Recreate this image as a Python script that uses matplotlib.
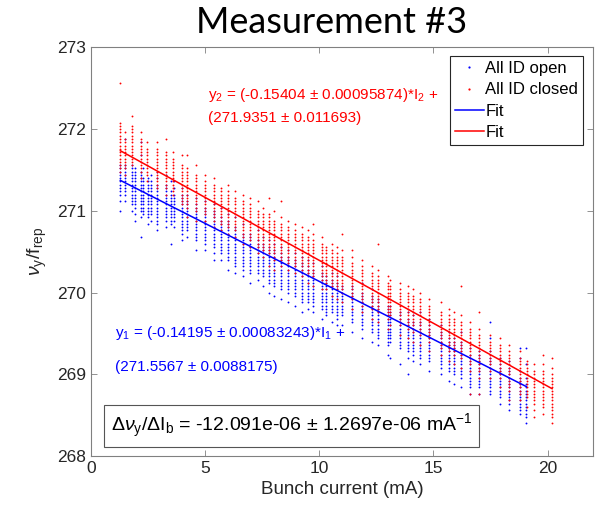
import numpy as np
import matplotlib
matplotlib.use('Agg')
import matplotlib.pyplot as plt
from matplotlib.lines import Line2D

plt.rcParams['font.family'] = ['Liberation Sans', 'DejaVu Sans']
plt.rcParams['mathtext.fontset'] = 'custom'
plt.rcParams['mathtext.rm'] = 'Liberation Sans'
plt.rcParams['mathtext.it'] = 'Liberation Sans:italic'
plt.rcParams['mathtext.bf'] = 'Liberation Sans:bold'

# tune values are stored as bin index k:  nu = tune_base + tune_step * k
tune_base = 268.0
tune_step = 0.04

# All ID open (blue): bunch current (mA) of each column and the bins seen there
open_I = [1.29, 1.50, 1.80, 1.95, 2.18, 2.30, 2.48, 2.65, 2.90, 3.30, 3.50, 3.65, 4.00, 4.20, 4.60,
          5.00, 5.40, 5.70, 6.00, 6.30, 6.65, 6.95, 7.30, 7.55, 7.80, 8.03, 8.32, 8.65, 8.94, 9.23,
          9.52, 9.74, 10.10, 10.30, 10.54, 10.76, 11.00, 11.42, 11.88, 12.29, 12.58, 13.02, 13.12,
          13.53, 13.90, 14.10, 14.40, 14.80, 15.35, 15.70, 15.90, 16.20, 16.60, 17.00, 17.50,
          17.90, 18.30, 18.80, 19.07]
open_k = [
    [75, 78, 80, 81, 82, 83, 84, 85, 86, 87, 88, 89],
    [78, 80, 81, 82, 83, 84, 85, 86, 87, 88, 89, 97],
    [75, 77, 78, 79, 80, 81, 82, 83, 84, 85, 86, 87, 88, 89],
    [72, 74, 76, 77, 78, 79, 80, 81, 82, 83, 84, 85, 86, 87, 88],
    [67, 73, 75, 76, 77, 78, 79, 80, 81, 82, 83, 84, 85, 86, 87, 92, 96],
    [74, 75, 76, 77, 78, 79, 80, 81, 82, 83, 84, 85, 88],
    [71, 73, 74, 75, 76, 77, 78, 79, 80, 81, 82, 83, 84, 85],
    [72, 74, 75, 76, 77, 78, 79, 80, 81, 82, 83, 84, 86],
    [69, 71, 72, 73, 74, 75, 76, 77, 78, 79, 80, 81, 82, 83, 85, 87],
    [70, 72, 73, 74, 75, 76, 77, 78, 79, 80, 81, 82, 83, 86],
    [65, 71, 72, 73, 74, 75, 76, 77, 78, 79, 80, 81, 84],
    [70, 72, 73, 74, 75, 76, 77, 78, 79, 80, 82, 84],
    [66, 68, 69, 70, 71, 72, 73, 74, 75, 76, 77, 78, 79, 80, 82],
    [67, 69, 70, 71, 72, 73, 74, 75, 76, 77, 78, 80],
    [63, 66, 67, 68, 69, 70, 71, 72, 73, 74, 75, 76, 77, 79],
    [63, 65, 66, 67, 68, 69, 70, 71, 72, 73, 74, 75, 76, 78],
    [60, 62, 64, 65, 66, 67, 68, 69, 70, 71, 72, 73, 74, 75, 77],
    [60, 62, 63, 64, 65, 66, 67, 68, 69, 70, 71, 72, 73, 76],
    [57, 60, 61, 62, 63, 64, 65, 66, 67, 68, 69, 70, 71, 72, 74],
    [56, 58, 59, 60, 61, 62, 63, 64, 65, 66, 67, 68, 69, 70, 73],
    [55, 57, 58, 59, 60, 61, 62, 63, 64, 65, 66, 67, 68, 71],
    [53, 56, 57, 58, 59, 60, 61, 62, 63, 64, 65, 66, 67, 68],
    [54, 56, 57, 58, 59, 60, 61, 62, 63, 64, 65, 66, 69],
    [52, 55, 56, 57, 58, 59, 60, 61, 62, 63, 64, 65, 67],
    [50, 53, 54, 55, 56, 57, 58, 59, 60, 61, 62, 63, 64, 66],
    [49, 52, 53, 54, 55, 56, 57, 58, 59, 60, 61, 62, 63, 65],
    [48, 51, 52, 53, 54, 55, 56, 57, 58, 59, 60, 61, 62, 64],
    [47, 50, 51, 52, 53, 54, 55, 56, 57, 58, 59, 60, 61, 63],
    [46, 49, 50, 51, 52, 53, 54, 55, 56, 57, 58, 59, 60, 62],
    [44, 47, 48, 49, 50, 51, 52, 53, 54, 55, 56, 57, 58, 59, 61],
    [45, 47, 48, 49, 50, 51, 52, 53, 54, 55, 56, 57, 58, 60],
    [44, 46, 47, 48, 49, 50, 51, 52, 53, 54, 55, 56, 57, 59],
    [42, 45, 46, 47, 48, 49, 50, 51, 52, 53, 54, 55, 56, 58],
    [43, 44, 45, 46, 47, 48, 49, 50, 51, 52, 53, 54, 55],
    [41, 44, 45, 46, 47, 48, 49, 50, 51, 52, 53, 54, 56],
    [40, 42, 43, 44, 45, 46, 47, 48, 49, 50, 51, 52, 53, 55],
    [40, 43, 44, 45, 46, 47, 48, 49, 50, 51, 52],
    [38, 41, 42, 43, 44, 45, 46, 47, 48, 49, 50, 51, 52],
    [36, 39, 40, 41, 42, 43, 44, 45, 46, 47, 48, 49, 50, 53],
    [35, 38, 39, 40, 41, 42, 43, 44, 45, 46, 47, 48, 49, 51],
    [34, 36, 37, 38, 39, 40, 41, 42, 43, 44, 45, 46, 47, 48],
    [31, 34, 35, 36, 37, 38, 39, 40, 41, 42, 43, 44, 45, 46],
    [30, 35, 36, 37, 38, 39, 40, 41, 42, 43, 44, 46],
    [28, 33, 34, 35, 36, 37, 38, 39, 40, 41, 42, 43, 44],
    [25, 30, 32, 33, 34, 35, 36, 37, 38, 39, 40, 41, 42, 44],
    [29, 31, 32, 33, 34, 35, 36, 37, 38, 39, 40, 41, 43],
    [28, 30, 31, 32, 33, 34, 35, 36, 37, 38, 39, 40, 41, 44],
    [26, 29, 30, 31, 32, 33, 34, 35, 36, 37, 38, 39, 40, 42],
    [25, 27, 28, 29, 30, 31, 32, 33, 34, 35, 36, 37, 38, 40],
    [23, 26, 27, 28, 29, 30, 31, 32, 33, 34, 35, 36, 38],
    [22, 25, 26, 27, 28, 29, 30, 31, 32, 33, 34, 35, 36],
    [21, 24, 25, 26, 27, 28, 29, 30, 31, 32, 33, 34, 35, 38],
    [19, 21, 22, 23, 24, 25, 26, 27, 28, 29, 30, 31, 33],
    [19, 21, 22, 23, 24, 25, 26, 27, 28, 29, 30, 31, 32],
    [19, 20, 21, 22, 23, 24, 25, 26, 27, 28, 29, 30, 32, 36, 41],
    [16, 18, 19, 20, 21, 22, 23, 24, 25, 26, 27, 28, 30],
    [14, 16, 17, 18, 19, 20, 21, 22, 23, 24, 25, 26, 27, 29],
    [13, 14, 15, 16, 17, 18, 19, 20, 21, 22, 23, 24, 26, 30, 33],
    [10, 12, 13, 14, 15, 16, 17, 18, 19, 20, 21, 22, 24, 28, 33],
]

# All ID closed (red)
closed_I = [1.29, 1.50, 1.80, 2.18, 2.45, 2.90, 3.30, 3.60, 4.00, 4.20, 4.60, 5.00, 5.40, 5.70,
            6.00, 6.30, 6.65, 6.95, 7.30, 7.55, 7.80, 8.03, 8.32, 8.65, 8.94, 9.23, 9.52, 9.74,
            10.10, 10.30, 10.54, 10.76, 10.98, 11.42, 11.88, 12.29, 12.58, 13.02, 13.12, 13.53,
            13.90, 14.10, 14.40, 14.80, 15.35, 15.70, 15.90, 16.20, 16.60, 17.00, 17.50, 17.90,
            18.30, 18.80, 19.10, 19.40, 19.80, 20.20]
closed_k = [
    [87, 88, 89, 90, 91, 92, 93, 94, 95, 96, 97, 98, 99, 100, 101, 102, 114],
    [86, 88, 89, 90, 91, 92, 93, 94, 95, 96, 97, 99],
    [89, 90, 91, 92, 93, 94, 95, 96, 97, 98, 99, 100, 101, 104],
    [85, 87, 88, 89, 90, 91, 92, 93, 94, 95, 96, 97, 99],
    [84, 86, 87, 88, 89, 90, 91, 92, 93, 94, 96],
    [82, 83, 84, 85, 86, 87, 88, 89, 90, 91, 92, 93, 94, 96],
    [80, 82, 83, 84, 85, 86, 87, 88, 89, 90, 91, 92, 93, 97],
    [80, 81, 82, 83, 84, 85, 86, 87, 88, 89, 90, 91, 93],
    [77, 78, 79, 80, 81, 82, 83, 84, 85, 86, 87, 88, 89, 92],
    [73, 76, 77, 78, 79, 80, 81, 82, 83, 84, 85, 86, 87, 88, 92],
    [72, 75, 76, 77, 78, 79, 80, 81, 82, 83, 84, 85, 86, 89],
    [72, 74, 75, 76, 77, 78, 79, 80, 81, 82, 83, 84, 86],
    [70, 72, 73, 74, 75, 76, 77, 78, 79, 80, 81, 82, 83, 85],
    [69, 71, 72, 73, 74, 75, 76, 77, 78, 79, 80, 81, 82],
    [68, 70, 71, 72, 73, 74, 75, 76, 77, 78, 79, 80, 81, 83],
    [67, 69, 70, 71, 72, 73, 74, 75, 76, 77, 78, 79, 81],
    [65, 67, 68, 69, 70, 71, 72, 73, 74, 75, 76, 77, 78, 80],
    [64, 66, 67, 68, 69, 70, 71, 72, 73, 74, 75, 76, 77, 79],
    [62, 64, 65, 66, 67, 68, 69, 70, 71, 72, 73, 74, 75, 78],
    [61, 63, 64, 65, 66, 67, 68, 69, 70, 71, 72, 73, 74, 76],
    [58, 62, 63, 64, 65, 66, 67, 68, 69, 70, 71, 72, 73, 74, 79],
    [57, 60, 61, 62, 63, 64, 65, 66, 67, 68, 69, 70, 71, 72, 75],
    [58, 60, 61, 62, 63, 64, 65, 66, 67, 68, 69, 70, 71, 73, 78],
    [57, 59, 60, 61, 62, 63, 64, 65, 66, 67, 68, 69, 70, 72],
    [56, 58, 59, 60, 61, 62, 63, 64, 65, 66, 67, 68, 69, 71],
    [55, 57, 58, 59, 60, 61, 62, 63, 64, 65, 66, 67, 68, 70],
    [53, 56, 57, 58, 59, 60, 61, 62, 63, 64, 65, 66, 67, 69],
    [52, 55, 56, 57, 58, 59, 60, 61, 62, 63, 64, 65, 66, 68, 71],
    [51, 54, 55, 56, 57, 58, 59, 60, 61, 62, 63, 64, 65, 67],
    [51, 53, 54, 55, 56, 57, 58, 59, 60, 61, 62, 63, 64],
    [49, 52, 53, 54, 55, 56, 57, 58, 59, 60, 61, 62, 63, 65],
    [48, 51, 52, 53, 54, 55, 56, 57, 58, 59, 60, 61, 62, 64],
    [47, 50, 51, 52, 53, 54, 55, 56, 57, 58, 59, 60, 61, 63, 68],
    [45, 48, 49, 50, 51, 52, 53, 54, 55, 56, 57, 58, 59, 61, 63],
    [44, 46, 47, 48, 49, 50, 51, 52, 53, 54, 55, 56, 57, 58, 60],
    [42, 45, 46, 47, 48, 49, 50, 51, 52, 53, 54, 55, 56, 58],
    [41, 44, 45, 46, 47, 48, 49, 50, 51, 52, 53, 54, 55, 57, 65],
    [39, 42, 43, 44, 45, 46, 47, 48, 49, 50, 51, 52, 53, 55],
    [40, 43, 44, 45, 46, 47, 48, 49, 50, 51, 52, 54],
    [37, 40, 41, 42, 43, 44, 45, 46, 47, 48, 49, 50, 51, 53],
    [36, 39, 40, 41, 42, 43, 44, 45, 46, 47, 48, 49, 50, 52],
    [35, 38, 39, 40, 41, 42, 43, 44, 45, 46, 47, 48, 49, 51],
    [34, 37, 38, 39, 40, 41, 42, 43, 44, 45, 46, 47, 48, 50],
    [32, 35, 36, 37, 38, 39, 40, 41, 42, 43, 44, 45, 46, 48],
    [31, 33, 34, 35, 36, 37, 38, 39, 40, 41, 42, 43, 44, 47],
    [29, 32, 33, 34, 35, 36, 37, 38, 39, 40, 41, 42, 43, 45],
    [28, 31, 32, 33, 34, 35, 36, 37, 38, 39, 40, 41, 42, 44],
    [27, 30, 31, 32, 33, 34, 35, 36, 37, 38, 39, 40, 41, 43, 52],
    [19, 26, 28, 29, 30, 31, 32, 33, 34, 35, 36, 37, 38, 39, 41],
    [19, 24, 26, 27, 28, 29, 30, 31, 32, 33, 34, 35, 36, 37, 39, 44],
    [24, 26, 27, 28, 29, 30, 31, 32, 33, 34, 35, 37],
    [21, 24, 25, 26, 27, 28, 29, 30, 31, 32, 33, 34, 36],
    [17, 20, 21, 22, 23, 24, 25, 26, 27, 28, 29, 30, 31, 32, 34],
    [17, 19, 20, 21, 22, 23, 24, 25, 26, 27, 28, 29, 30, 32],
    [15, 18, 19, 20, 21, 22, 23, 24, 25, 26, 27, 28, 29],
    [12, 14, 16, 17, 18, 19, 20, 21, 22, 23, 24, 25, 26, 28],
    [13, 15, 16, 17, 18, 19, 20, 21, 22, 23, 24, 25, 26, 28, 31],
    [10, 12, 13, 14, 15, 16, 17, 18, 19, 20, 21, 22, 23, 24, 25, 27, 30],
]

# linear fits  nu = slope * I + offset
open_fit = (-0.14195, 271.5567)
closed_fit = (-0.15404, 271.9351)


def flatten(cols_I, cols_k):
    xs, ys = [], []
    for cur, ks in zip(cols_I, cols_k):
        for k in ks:
            xs.append(cur)
            ys.append(tune_base + tune_step * k)
    return np.array(xs), np.array(ys)


xo, yo = flatten(open_I, open_k)
xc, yc = flatten(closed_I, closed_k)

fig = plt.figure(figsize=(5.98, 5.16), dpi=100)
ax = fig.add_axes([0.152, 0.1163, 0.840, 0.7917])

ms = 1.35
ax.plot(xo, yo, ls='none', marker='o', ms=ms, mew=0, color='#0000ff')
ax.plot(xc, yc, ls='none', marker='o', ms=ms, mew=0, color='#ff0000')

fo = np.array([min(open_I), max(open_I)])
fc = np.array([min(closed_I), max(closed_I)])
ax.plot(fo, open_fit[0] * fo + open_fit[1], color='#0000ff', lw=1.1)
ax.plot(fc, closed_fit[0] * fc + closed_fit[1], color='#ff0000', lw=1.1)

ax.set_xlim(0, 22)
ax.set_ylim(268, 273)
ax.set_xticks([0, 5, 10, 15, 20])
ax.set_yticks([268, 269, 270, 271, 272, 273])
ax.tick_params(direction='in', top=True, right=True, length=4, width=0.6,
               labelsize=12.5, colors='#262626', color='#808080')
for s in ax.spines.values():
    s.set_color('#808080')
    s.set_linewidth(0.8)

ax.set_xlabel('Bunch current (mA)', fontsize=13.5, color='#262626', labelpad=4)
ax.set_ylabel(r'$\nu_{\rm y}$/f$_{\rm rep}$', fontsize=14, color='#262626', labelpad=6)

fig.text(0.555, 0.936, 'Measurement #3', ha='center', va='baseline',
         fontsize=26, family=['Lato', 'DejaVu Sans'])

ax.text(5.15, 272.42, r'y$_2$ = (-0.15404 ± 0.00095874)*I$_2$ +', color='#ff0000',
        fontsize=11, va='center')
ax.text(5.15, 272.14, '(271.9351 ± 0.011693)', color='#ff0000', fontsize=11, va='center')
ax.text(1.05, 269.5, r'y$_1$ = (-0.14195 ± 0.00083243)*I$_1$ +', color='#0000ff',
        fontsize=11, va='center')
ax.text(1.05, 269.09, '(271.5567 ± 0.0088175)', color='#0000ff', fontsize=11, va='center')

ax.text(0.86, 268.37,
        r'$\Delta\nu_{\rm y}/\Delta$I$_{\rm b}$ = -12.091e-06 ± 1.2697e-06 mA$^{-1}$',
        fontsize=14, va='center', ha='left',
        bbox=dict(boxstyle='square,pad=0.35', fc='white', ec='#555555', lw=0.8))

handles = [Line2D([], [], ls='none', marker='o', ms=1.6, mew=0, color='#0000ff'),
           Line2D([], [], ls='none', marker='o', ms=1.6, mew=0, color='#ff0000'),
           Line2D([], [], color='#0000ff', lw=1.1),
           Line2D([], [], color='#ff0000', lw=1.1)]
leg = ax.legend(handles, ['All ID open', 'All ID closed', 'Fit', 'Fit'],
                loc='upper right', bbox_to_anchor=(0.980, 0.979), borderaxespad=0,
                fontsize=12, handlelength=1.7, handletextpad=0.1, labelspacing=0.38,
                borderpad=0.3, fancybox=False, framealpha=1)
leg.get_frame().set_edgecolor('#262626')
leg.get_frame().set_linewidth(0.8)

fig.savefig('out.png', dpi=100)
